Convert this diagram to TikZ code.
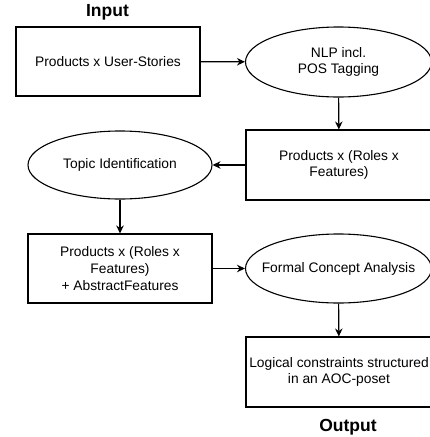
\documentclass[tikz,border=0pt]{standalone}
\usepackage{fontspec}
\setmainfont{Liberation Sans}
\usetikzlibrary{shapes.geometric,arrows.meta}

\tikzset{
  stage/.style={draw, line width=1.1pt, minimum width=184pt, minimum height=69pt, inner sep=0pt, align=center, font=\fontsize{13.8}{16.6}\selectfont},
  task/.style={draw, line width=1.1pt, ellipse, minimum width=184pt, minimum height=69pt, inner sep=0pt},
  tasktext/.style={align=center, inner sep=0pt, font=\fontsize{13.8}{16.6}\selectfont},
  io/.style={anchor=base, font=\fontsize{17.5}{20}\selectfont\bfseries}
}

\begin{document}
\begin{tikzpicture}[x=1pt,y=-1pt,>={Stealth[length=8pt,width=7.5pt]}]
\useasboundingbox (0,0) rectangle (429,437);

\node[io] (input) at (107.5,16.7) {Input};
\node[stage] (stories) at (108,61.5) {Products x User-Stories};
\node[task, minimum width=186pt, minimum height=70pt, label={[tasktext]center:NLP incl.\\POS Tagging}] (nlp) at (338.5,62) {};
\node[stage, minimum width=186pt, minimum height=70pt] (rolefeat) at (339,165) {Products x (Roles x\\Features)};
\node[task, minimum height=68pt, label={[tasktext]center:Topic Identification}] (topic) at (120,165) {};
\node[stage] (abstract) at (120,268.5) {Products x (Roles x\\Features)\\+ AbstractFeatures};
\node[task, minimum width=186pt, label={[tasktext]center:Formal Concept Analysis}] (fca) at (338.5,268.5) {};
\node[stage, minimum width=186pt, minimum height=70pt] (poset) at (339,372) {Logical constraints structured\\in an AOC-poset};
\node[io] (output) at (348,431.7) {Output};

\draw[->, line width=1.1pt] (stories) -- (nlp);
\draw[->, line width=1.1pt] (nlp) -- (rolefeat);
\draw[->, line width=1.1pt] (rolefeat) -- (topic);
\draw[->, line width=1.1pt] (topic) -- (abstract);
\draw[->, line width=1.1pt] (abstract) -- (fca);
\draw[->, line width=1.1pt] (fca) -- (poset);
\end{tikzpicture}
\end{document}
